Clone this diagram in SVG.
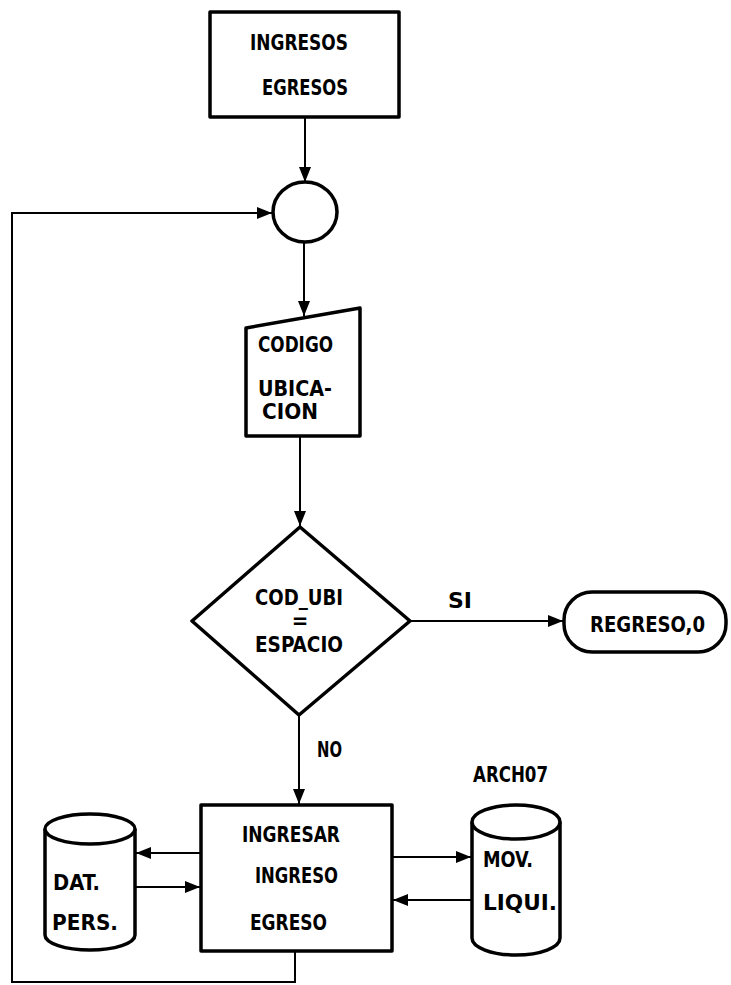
<svg xmlns="http://www.w3.org/2000/svg" width="731" height="985" viewBox="0 0 731 985">
<style>
.shape{fill:#fff;stroke:#000;stroke-width:3.5;stroke-linejoin:round}
.conn{fill:none;stroke:#000;stroke-width:2}
.t{font-family:"DejaVu Sans Condensed","DejaVu Sans","Liberation Sans",sans-serif;font-weight:bold;font-size:22px;fill:#000}
</style>
<defs>
<marker id="ah" markerUnits="userSpaceOnUse" markerWidth="16" markerHeight="12" refX="15" refY="6" orient="auto">
<path d="M0,0 L15,6 L0,12 z" fill="#000"/>
</marker>
</defs>
<rect width="731" height="985" fill="#fff"/>
<g id="connectors">
<line class="conn" x1="305" y1="117" x2="305" y2="182" marker-end="url(#ah)"/>
<line class="conn" x1="304" y1="242" x2="304" y2="316" marker-end="url(#ah)"/>
<line class="conn" x1="300" y1="436" x2="300" y2="526" marker-end="url(#ah)"/>
<line class="conn" x1="410" y1="621" x2="563" y2="621" marker-end="url(#ah)"/>
<line class="conn" x1="299" y1="715" x2="299" y2="804" marker-end="url(#ah)"/>
<polyline class="conn" points="295,951 295,982 12,982 12,213 272,213" marker-end="url(#ah)"/>
<line class="conn" x1="201" y1="853" x2="136" y2="853" marker-end="url(#ah)"/>
<line class="conn" x1="136" y1="887" x2="200" y2="887" marker-end="url(#ah)"/>
<line class="conn" x1="392" y1="857" x2="471" y2="857" marker-end="url(#ah)"/>
<line class="conn" x1="472" y1="900" x2="393" y2="900" marker-end="url(#ah)"/>
</g>
<g id="n_ingresos">
<rect class="shape" x="210" y="12" width="189" height="105"/>
<text class="t" x="250" y="50" textLength="98" lengthAdjust="spacingAndGlyphs">INGRESOS</text>
<text class="t" x="262" y="95" textLength="86" lengthAdjust="spacingAndGlyphs">EGRESOS</text>
</g>
<g id="n_connector">
<ellipse class="shape" cx="305" cy="212" rx="32" ry="30"/>
</g>
<g id="n_codigo">
<polygon class="shape" points="246,328 360,308 360,436 246,436"/>
<text class="t" x="258" y="352" textLength="75" lengthAdjust="spacingAndGlyphs">CODIGO</text>
<text class="t" x="258" y="396" font-size="19" textLength="74" lengthAdjust="spacingAndGlyphs">UBICA-</text>
<text class="t" x="262" y="419" font-size="19" textLength="56" lengthAdjust="spacingAndGlyphs">CION</text>
</g>
<g id="n_decision">
<polygon class="shape" points="300,527 410,621 299,715 192,621"/>
<text class="t" x="255" y="605" textLength="88" lengthAdjust="spacingAndGlyphs">COD_UBI</text>
<text class="t" x="300" y="628" text-anchor="middle" font-size="14">=</text>
<text class="t" x="255" y="652" textLength="88" lengthAdjust="spacingAndGlyphs">ESPACIO</text>
</g>
<g id="l_si"><text class="t" x="448" y="608" textLength="24" lengthAdjust="spacingAndGlyphs">SI</text></g>
<g id="l_no"><text class="t" x="317" y="757" textLength="25" lengthAdjust="spacingAndGlyphs">NO</text></g>
<g id="n_regreso">
<rect class="shape" x="564" y="592" width="162" height="60" rx="28" ry="28"/>
<text class="t" x="590" y="632" textLength="115" lengthAdjust="spacingAndGlyphs">REGRESO,0</text>
</g>
<g id="n_process">
<rect class="shape" x="201" y="805" width="191" height="146"/>
<text class="t" x="242" y="842" textLength="98" lengthAdjust="spacingAndGlyphs">INGRESAR</text>
<text class="t" x="255" y="883" textLength="83" lengthAdjust="spacingAndGlyphs">INGRESO</text>
<text class="t" x="250" y="930" textLength="77" lengthAdjust="spacingAndGlyphs">EGRESO</text>
</g>
<g id="n_datpers">
<path class="shape" d="M45,829 L45,935 A45,15 0 0 0 135,935 L135,829 A45,15 0 0 0 45,829 Z"/>
<path class="shape" d="M45,829 A45,15 0 0 0 135,829" fill="none"/>
<text class="t" x="53" y="890" textLength="47" lengthAdjust="spacingAndGlyphs">DAT.</text>
<text class="t" x="52" y="930" textLength="66" lengthAdjust="spacingAndGlyphs">PERS.</text>
</g>
<g id="n_movliqui">
<path class="shape" d="M472,822 L472,938 A44,17 0 0 0 560,938 L560,822 A44,17 0 0 0 472,822 Z"/>
<path class="shape" d="M472,822 A44,17 0 0 0 560,822" fill="none"/>
<text class="t" x="483" y="867" textLength="50" lengthAdjust="spacingAndGlyphs">MOV.</text>
<text class="t" x="483" y="910" textLength="74" lengthAdjust="spacingAndGlyphs">LIQUI.</text>
</g>
<g id="l_arch07"><text class="t" x="473" y="782" textLength="75" lengthAdjust="spacingAndGlyphs">ARCH07</text></g>
</svg>
